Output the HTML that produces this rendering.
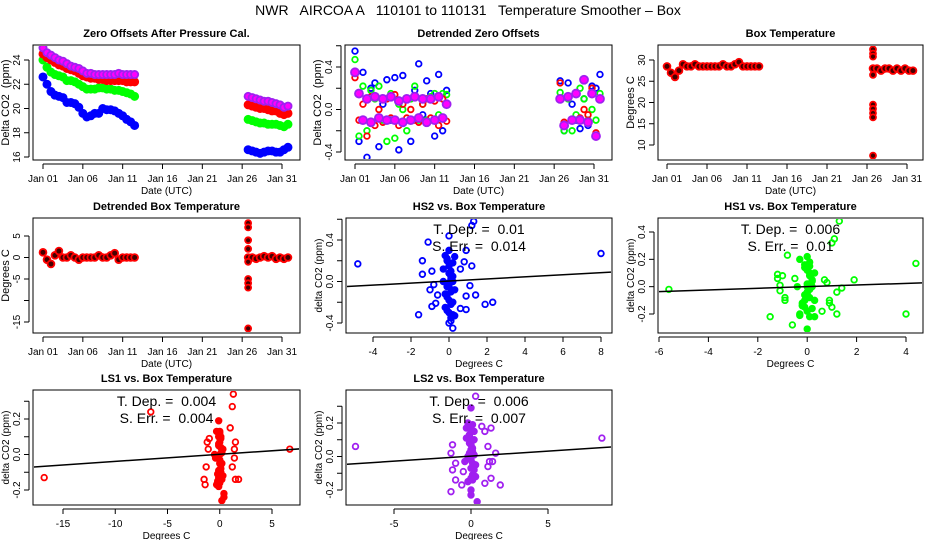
<!DOCTYPE html>
<html><head><meta charset="utf-8"><style>
html,body{margin:0;padding:0;background:#fff}
svg{display:block;font-family:"Liberation Sans",Arial,sans-serif}
text{white-space:pre}
</style></head><body>
<svg id="chart" width="936" height="540" viewBox="0 0 936 540" xmlns="http://www.w3.org/2000/svg">
<rect x="0" y="0" width="936" height="540" fill="#fff"/>
<text x="468" y="15" text-anchor="middle" font-size="14" xml:space="preserve">NWR   AIRCOA A   110101 to 110131   Temperature Smoother – Box</text>
</svg>
<script>
// ---- data ----
const times = [1,1.5,2,2.5,3,3.5,4,4.5,5,5.5,6,6.5,7,7.5,8,8.5,9,9.5,10,10.5,11,11.5,12,12.5,
  26.75,27.25,27.75,28.25,28.75,29.25,29.75,30.25,30.75,31.25,31.75];
const zoBlue = [22.6,22.0,21.4,21.1,21.0,20.9,20.5,20.5,20.4,20.1,19.6,19.3,19.4,19.6,19.6,20.0,19.9,19.9,19.8,19.6,19.4,19.1,18.9,18.6,
  16.6,16.5,16.4,16.3,16.4,16.5,16.5,16.4,16.4,16.6,16.8];
const zoGreen = [24.0,23.4,23.0,22.8,22.7,22.6,22.3,22.3,22.2,22.0,21.8,21.6,21.6,21.6,21.7,21.7,21.6,21.6,21.5,21.5,21.4,21.3,21.2,21.0,
  19.1,19.0,18.9,18.8,18.8,18.7,18.7,18.7,18.6,18.5,18.7];
const zoRed = [24.5,24.2,24.0,23.8,23.6,23.5,23.3,23.2,23.1,22.9,22.7,22.6,22.5,22.5,22.4,22.4,22.3,22.3,22.3,22.3,22.3,22.2,22.2,22.2,
  20.3,20.2,20.1,20.0,20.0,19.9,19.8,19.8,19.6,19.5,19.6];
const zoPurple = [25.0,24.6,24.4,24.2,24.0,23.9,23.7,23.5,23.4,23.3,23.1,22.9,22.9,22.8,22.8,22.8,22.8,22.8,22.8,22.9,22.8,22.8,22.8,22.8,
  21.0,20.9,20.8,20.7,20.6,20.6,20.5,20.4,20.3,20.1,20.2];
const dtBlue = [0.55,-0.3,0.35,-0.45,0.2,0.25,-0.35,0.05,0.28,-0.1,0.3,-0.38,0.32,0.1,-0.3,0.18,0.43,-0.05,0.27,0.15,-0.25,0.33,-0.2,0.18,
  0.27,-0.2,0.25,0.05,-0.1,-0.18,0.1,-0.15,0.22,0.2,0.33];
const dtGreen = [0.47,-0.25,0.22,-0.2,0.18,0.1,0.22,-0.1,-0.3,0.15,-0.27,0.05,0.0,-0.2,0.1,0.22,-0.1,0.05,-0.1,0.12,0.15,-0.05,0.15,0.14,
  0.16,-0.2,0.1,-0.2,-0.05,0.2,0.1,-0.1,0.0,-0.1,0.15];
const dtRed = [0.3,-0.1,0.05,-0.25,0.12,-0.15,0.0,-0.12,0.1,-0.08,0.14,-0.15,0.05,-0.08,0.0,-0.1,-0.12,0.05,0.1,-0.08,0.08,-0.15,0.1,-0.11,
  0.25,-0.12,0.12,-0.1,0.15,-0.08,0.0,-0.05,0.2,-0.22,0.1];
const dtPurple = [0.35,0.15,-0.1,0.1,-0.12,0.12,-0.08,0.1,-0.1,0.12,-0.1,0.08,-0.12,0.1,-0.1,0.12,-0.08,0.1,-0.12,0.1,-0.1,0.12,-0.08,0.05,
  0.1,-0.15,0.12,-0.1,0.15,-0.1,0.28,-0.12,0.15,-0.25,0.1];
const boxTemp = [28.5,27,26,27.5,29,28.5,28.5,29,28.5,28.5,28.5,28.5,28.5,28.5,29,28.5,28.5,29,29.5,28.5,28.5,28.5,28.5,28.5,
  28,28,27.5,28,28,27.5,28,27.5,28,27.5,27.5];
const boxOutDay = [26.75,26.75,26.75,26.75,26.75,26.75,26.75,26.75,26.75];
const boxOutTemp = [32.5,31.5,30.8,19.5,18.5,17.5,16.5,7.5,26.5];
const detTemp = [1.2,-0.5,-1.5,0.5,1.5,0,0,0.5,0,-0.5,0,0,0,0,0.5,0,0,0.5,1,-0.5,0,0,0,0,
  0,0,-0.3,0,0.3,0,0.3,-0.3,0,-0.3,0];
const detOutTemp = [8,7,4,2,-5,-6,-7,-16.5,-1];
// scatter panels
const hs2X = [-4.8,-1.6,-1.1,-1.4,-1.4,-1.0,-0.9,-0.9,-0.6,-0.7,-0.8,1.3,1.2,0.9,1.2,0.8,1.1,0.9,1.4,0.9,1.9,2.3,8.0,0.0,0.2,0.1,0.3,0.6,0.3,0.6,
  -0.2,-0.1,0,0.1,0.2,-0.3,0,0.1,-0.1,0.2,-0.2,0,0.1,-0.1,0.2,-0.3,0,0.1,-0.1,0.3,-0.2,0,0.1,-0.1,0.2,0,0.1,-0.1,0,0.2];
const hs2Y = [0.17,-0.32,0.38,0.2,0.07,-0.08,-0.24,0.1,-0.13,-0.21,-0.03,0.58,0.54,0.3,0.15,0.19,-0.04,-0.14,-0.13,-0.27,-0.22,-0.2,0.27,0.44,-0.45,-0.38,-0.33,-0.26,0.24,0.12,
  0.25,0.2,0.15,0.1,0.05,0,-0.05,-0.1,-0.15,-0.2,-0.25,-0.3,-0.35,0.22,0.18,0.12,0.08,0.02,-0.02,-0.08,-0.12,-0.18,-0.22,-0.28,-0.32,0.3,0.05,-0.05,-0.4,0.0];
const hs1X = [-5.6,-1.5,-0.8,-1.2,-1.2,-1.0,-1.1,-1.1,-0.9,-0.9,-0.6,-0.3,0,1.3,1.1,1.0,1.9,4.4,4.0,1.2,1.0,0.9,0.9,1.2,1.4,0.8,0.7,0.6,0.1,0.3,
  -0.3,-0.1,0,0.1,0.2,-0.4,0,0.1,-0.2,0.2,-0.3,0,0.1,-0.1,0.3,-0.5,0,0.1,-0.1,0.3,-0.2,0,0.1,-0.1,0.2,0,0.1,-0.1,0,0.2];
const hs1Y = [-0.02,-0.22,0.23,0.09,0.06,0.08,0.01,-0.03,-0.08,-0.1,-0.28,-0.21,-0.31,0.48,0.35,0.32,0.05,0.17,-0.2,-0.2,-0.15,-0.12,-0.1,-0.04,-0.01,0.03,0.05,-0.18,-0.22,-0.22,
  0.2,0.16,0.12,0.08,0.04,0,-0.04,-0.08,-0.12,-0.16,-0.2,0.22,0.18,0.14,0.1,0.06,0.02,-0.02,-0.06,-0.1,-0.14,-0.18,0.1,-0.1,0.05,-0.05,0.15,-0.15,0.0,0.0];
const ls1X = [-16.8,-6.6,-0.1,1.3,1.2,1.0,1.5,1.4,-1.2,-1.0,-1.1,-1.3,-1.5,-1.4,1.5,1.8,6.7,0.4,0.4,0.2,1.2,1.4,-0.1,
  -0.3,-0.1,0,0.1,0.2,-0.4,0,0.1,-0.2,0.2,-0.3,0,0.1,-0.1,0.3,-0.5,0,0.1,-0.1,0.3,-0.2,0,0.1,-0.1,0.2,0,0.1,-0.1,0,0.2];
const ls1Y = [-0.13,0.24,0.19,0.34,0.27,0.15,0.07,0.03,0.07,0.09,0.03,-0.07,-0.14,-0.17,-0.14,-0.14,0.03,-0.22,-0.24,-0.26,-0.07,-0.02,-0.18,
  0.13,0.1,0.07,0.04,0.01,-0.02,-0.05,-0.08,-0.11,-0.14,-0.17,0.12,0.09,0.06,0.03,0,-0.03,-0.06,-0.09,-0.12,-0.15,0.13,-0.1,0.05,-0.05,-0.16,0.1,-0.13,0.0,0.02];
const ls2X = [-7.5,-1.2,-1.3,-1.0,-1.2,-1.0,-1.3,-0.6,0.0,0.3,0.7,1.3,0.9,1.1,1.6,1.2,1.4,1.1,1.3,0.9,1.9,8.5,0,0,0.4,-0.2,
  -0.3,-0.1,0,0.1,0.2,-0.4,0,0.1,-0.2,0.2,-0.3,0,0.1,-0.1,0.3,-0.5,0,0.1,-0.1,0.3,-0.2,0,0.1,-0.1,0.2,0,0.1,-0.1,0,0.2];
const ls2Y = [0.06,0.07,0.02,-0.04,-0.08,-0.14,-0.21,-0.17,0.29,0.36,0.18,0.17,0.15,0.06,0.02,-0.03,-0.03,-0.06,-0.13,-0.16,-0.17,0.11,-0.2,-0.23,-0.27,0.2,
  0.17,0.13,0.09,0.05,0.01,-0.03,-0.07,-0.11,-0.15,0.15,0.11,0.07,0.03,-0.01,-0.05,-0.09,-0.13,0.19,0.12,-0.12,0.0,0.04,-0.04,0.08,-0.08,0.16,-0.14,0.02,-0.02,0.1];
const tDep = [0.01,0.006,0.004,0.006];
const sErr = [0.014,0.01,0.004,0.007];
const intercepts = [0.005,0.0,0.001,0.002];
const dayTicks = [1,6,11,16,21,26,31];
const dayLabels = ["Jan 01","Jan 06","Jan 11","Jan 16","Jan 21","Jan 26","Jan 31"];

// ---- drawing ----
const NS = "http://www.w3.org/2000/svg";
const svg = document.getElementById("chart");
function el(tag, attrs, parent){
  const e = document.createElementNS(NS, tag);
  for (const k in attrs) e.setAttribute(k, attrs[k]);
  (parent||svg).appendChild(e);
  return e;
}
function lin(a, pa, b, pb){ return v => pa + (v - a) * (pb - pa) / (b - a); }

function panel(p){
  const g = el("g", {});
  
  
  const sx = lin(p.xm[0], p.xm[1], p.xm[2], p.xm[3]);
  const sy = lin(p.ym[0], p.ym[1], p.ym[2], p.ym[3]);
  p.sx = sx; p.sy = sy; p.g = g;
  const t = el("text", {x:(p.box[0]+p.box[1])/2, y:p.box[2]-8, "text-anchor":"middle", "font-size":11, "font-weight":"bold"}, g);
  t.textContent = p.title;
  
  
  const b = el("rect", {x:p.box[0], y:p.box[2], width:p.box[1]-p.box[0], height:p.box[3]-p.box[2], fill:"none", stroke:"#000", "stroke-width":1}, g);
  
  
  const xa = el("g", {}, g);
  
  
  const xs = p.xticks;
  el("line", {x1:sx(xs[0]), x2:sx(xs[xs.length-1]), y1:p.box[3]+4, y2:p.box[3]+4, stroke:"#000"}, xa);
  xs.forEach((v,i) => {
    el("line", {x1:sx(v), x2:sx(v), y1:p.box[3]+4, y2:p.box[3]+9, stroke:"#000"}, xa);
    const tl = el("text", {x:sx(v), y:p.box[3]+22, "text-anchor":"middle", "font-size":10}, xa);
    tl.textContent = p.xlabels[i];
    
    
  });
  const xt = el("text", {x:(p.box[0]+p.box[1])/2, y:p.box[3]+34, "text-anchor":"middle", "font-size":10}, g);
  xt.textContent = p.xtitle;
  
  
  const ya = el("g", {}, g);
  
  
  const ys = p.yticks, ax = p.box[0]-4;
  el("line", {x1:ax, x2:ax, y1:sy(ys[0]), y2:sy(ys[ys.length-1]), stroke:"#000"}, ya);
  ys.forEach((v,i) => {
    el("line", {x1:ax-5, x2:ax, y1:sy(v), y2:sy(v), stroke:"#000"}, ya);
    if (p.ylabels[i] !== "") {
      const tl = el("text", {x:0, y:0, "text-anchor":"middle", "font-size":10, transform:`translate(${ax-9},${sy(v)}) rotate(-90)`}, ya);
      tl.textContent = p.ylabels[i];
      
      
    }
  });
  const yt = el("text", {x:0, y:0, "text-anchor":"middle", "font-size":p.ytfs||11, transform:`translate(${p.box[0]-24},${(p.box[2]+p.box[3])/2}) rotate(-90)`}, g);
  yt.textContent = p.ytitle;
  
  
  const cid = "c"+p.name;
  const cp = el("clipPath", {id:cid}, g);
  el("rect", {x:p.box[0]+1, y:p.box[2]+1, width:p.box[1]-p.box[0]-2, height:p.box[3]-p.box[2]-2}, cp);
  p.plot = el("g", {"clip-path":`url(#${cid})`}, g);
  return p;
}
// points; fillNear: fill points whose |x| < fillNear (dense cluster look)
function pts(p, xs, ys, color, name, inner, r, fillNear){
  const g = el("g", {}, p.plot);
  
  
  xs.forEach((x,i) => {
    let f = inner || "none";
    if (fillNear && Math.abs(x) < fillNear && Math.abs(ys[i]) < 0.36) f = color;
    const c = el("circle", {cx:p.sx(x), cy:p.sy(ys[i]), r:r||2.8, fill:f, stroke:color, "stroke-width":1.8}, g);
    
    
  });
}
function fitLine(p, k){
  const x0 = p.xm[0]-20, x1 = p.xm[2]+20;
  const l = el("line", {x1:p.sx(x0), y1:p.sy(intercepts[k]+tDep[k]*x0), x2:p.sx(x1), y2:p.sy(intercepts[k]+tDep[k]*x1), stroke:"#000", "stroke-width":1.5}, p.plot);
  
  
  const cx = (p.box[0]+p.box[1])/2;
  const a = el("text", {x:cx, y:p.box[2]+16, "text-anchor":"middle", "font-size":14}, p.g);
  a.textContent = "T. Dep. =  " + tDep[k];
  
  
  const s = el("text", {x:cx, y:p.box[2]+33, "text-anchor":"middle", "font-size":14}, p.g);
  s.textContent = "S. Err. =  " + sErr[k];
  
  
}

const PURPLE = "#a020f0";
const p1 = panel({name:"zero-offsets-panel", title:"Zero Offsets After Pressure Cal.", box:[33,300,45,160],
  xm:[1,43,31,282], ym:[16,157,24,60], xticks:dayTicks, xlabels:dayLabels, xtitle:"Date (UTC)",
  yticks:[16,18,20,22,24], ylabels:["16","18","20","22","24"], ytitle:"Delta CO2  (ppm)"});
pts(p1, times, zoBlue, "#0000ff", "series-hs2", "#0000ff", 3.6);
pts(p1, times, zoGreen, "#00ff00", "series-hs1", "#00ff00", 3.6);
pts(p1, times, zoRed, "#ff0000", "series-ls1", "#ff0000", 3.6);
pts(p1, times, zoPurple, PURPLE, "series-ls2", "#ff00ff", 3.6);

const p2 = panel({name:"detrended-zero-offsets-panel", title:"Detrended Zero Offsets", box:[345,612,45,160],
  xm:[1,355,31,594], ym:[-0.4,152,0.4,67], xticks:dayTicks, xlabels:dayLabels, xtitle:"Date (UTC)",
  yticks:[-0.4,-0.2,0,0.2,0.4,0.6], ylabels:["-0.4","","0.0","","0.4",""], ytitle:"Delta CO2  (ppm)"});
pts(p2, times, dtBlue, "#0000ff", "series-hs2");
pts(p2, times, dtGreen, "#00ff00", "series-hs1");
pts(p2, times, dtRed, "#ff0000", "series-ls1");
pts(p2, times, dtPurple, PURPLE, "series-ls2", "#ff00ff", 4);

const p3 = panel({name:"box-temperature-panel", title:"Box Temperature", box:[658,923,45,160],
  xm:[1,667,31,907], ym:[10,145,30,60], xticks:dayTicks, xlabels:dayLabels, xtitle:"Date (UTC)",
  yticks:[10,15,20,25,30], ylabels:["10","15","20","25","30"], ytitle:"Degrees C"});
pts(p3, times, boxTemp, "#ff0000", "series-box-temp", "#400", 3.4);
pts(p3, boxOutDay, boxOutTemp, "#ff0000", "series-box-temp-outliers", "#400", 3);

const p4 = panel({name:"detrended-box-temperature-panel", title:"Detrended Box Temperature", box:[33,300,218,333],
  xm:[1,43,31,282], ym:[-15,322,5,236], xticks:dayTicks, xlabels:dayLabels, xtitle:"Date (UTC)",
  yticks:[-15,-10,-5,0,5], ylabels:["-15","","-5","0","5"], ytitle:"Degrees C"});
pts(p4, times, detTemp, "#ff0000", "series-detrended-temp", "#400", 3.4);
pts(p4, boxOutDay, detOutTemp, "#ff0000", "series-detrended-temp-outliers", "#400", 3);

const p5 = panel({name:"hs2-vs-temp-panel", title:"HS2 vs. Box Temperature", box:[346,612,218,333],
  xm:[-4,373,8,601], ym:[-0.4,323,0.4,240], xticks:[-4,-2,0,2,4,6,8], xlabels:["-4","-2","0","2","4","6","8"], xtitle:"Degrees C",
  yticks:[-0.4,-0.2,0,0.2,0.4,0.6], ylabels:["-0.4","","0.0","","0.4",""], ytitle:"delta CO2 (ppm)", ytfs:10});
pts(p5, hs2X, hs2Y, "#0000ff", "series-hs2", null, 2.8, 0.35);
fitLine(p5, 0);

const p6 = panel({name:"hs1-vs-temp-panel", title:"HS1 vs. Box Temperature", box:[658,923,218,333],
  xm:[-6,659,4,906], ym:[-0.2,314,0.4,232], xticks:[-6,-4,-2,0,2,4], xlabels:["-6","-4","-2","0","2","4"], xtitle:"Degrees C",
  yticks:[-0.2,0,0.2,0.4], ylabels:["-0.2","0.0","0.2","0.4"], ytitle:"delta CO2 (ppm)", ytfs:10});
pts(p6, hs1X, hs1Y, "#00ff00", "series-hs1", null, 2.8, 0.45);
fitLine(p6, 1);

const p7 = panel({name:"ls1-vs-temp-panel", title:"LS1 vs. Box Temperature", box:[33,300,390,505],
  xm:[-15,63,5,272], ym:[-0.2,490,0.2,419], xticks:[-15,-10,-5,0,5], xlabels:["-15","-10","-5","0","5"], xtitle:"Degrees C",
  yticks:[-0.2,-0.1,0,0.1,0.2,0.3], ylabels:["-0.2","","0.0","","0.2",""], ytitle:"delta CO2 (ppm)", ytfs:10});
pts(p7, ls1X, ls1Y, "#ff0000", "series-ls1", null, 2.8, 0.6);
fitLine(p7, 2);

const p8 = panel({name:"ls2-vs-temp-panel", title:"LS2 vs. Box Temperature", box:[346,612,390,505],
  xm:[-5,394,5,548], ym:[-0.2,490,0.2,423], xticks:[-5,0,5], xlabels:["-5","0","5"], xtitle:"Degrees C",
  yticks:[-0.2,-0.1,0,0.1,0.2,0.3], ylabels:["-0.2","","0.0","","0.2",""], ytitle:"delta CO2 (ppm)", ytfs:10});
pts(p8, ls2X, ls2Y, PURPLE, "series-ls2", null, 2.8, 0.45);
fitLine(p8, 3);
</script>
</body></html>
